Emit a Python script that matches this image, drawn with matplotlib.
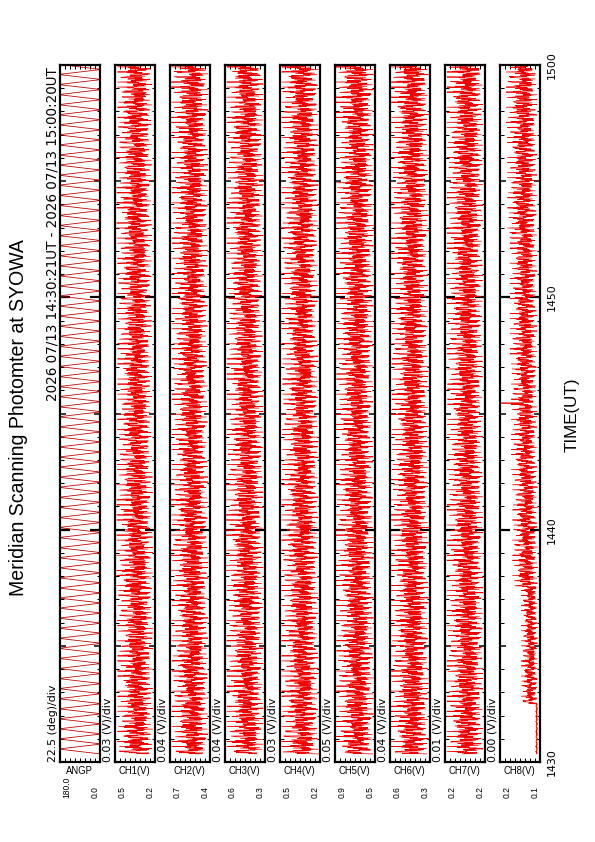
import numpy as np
import matplotlib
matplotlib.use("Agg")
import matplotlib.pyplot as plt
from matplotlib.ticker import MultipleLocator, FixedLocator

plt.rcParams['font.family'] = ['Liberation Sans', 'DejaVu Sans']
VFONT = ['DejaVu Sans']

# ---------------- data ----------------
TITLE = "Meridian Scanning Photomter at SYOWA"
PERIOD_TEXT = "2026 07/13 14:30:21UT - 2026 07/13 15:00:20UT"
TIME_TICKS = [1430, 1440, 1450, 1500]
CHANNELS = ["ANGP", "CH1(V)", "CH2(V)", "CH3(V)", "CH4(V)",
            "CH5(V)", "CH6(V)", "CH7(V)", "CH8(V)"]
SCALE_TEXT = ["22.5 (deg)/div", "0.03 (V)/div", "0.04 (V)/div", "0.04 (V)/div",
              "0.03 (V)/div", "0.05 (V)/div", "0.04 (V)/div", "0.01 (V)/div",
              "0.00 (V)/div"]
AXIS_MAX = [180.0, 0.47, 0.72, 0.62, 0.48, 0.90, 0.60, 0.24, 0.160]
AXIS_MIN = [0.0, 0.23, 0.40, 0.30, 0.24, 0.50, 0.28, 0.16, 0.128]

START_SEC = 21          # 14:30:21 UT
N_SAMPLES = 1800        # 1 s sampling up to 15:00:20 UT
SAMPLE_STEP = 1

# scan mirror angle sequence (deg) over one scan cycle
SCAN_ANGLES = [0, 15, 30, 45, 60, 75, 90, 105, 120, 135, 150, 165, 180,
               180, 165, 150, 135, 120, 105, 90, 75, 60, 45, 30, 15, 0]
# relative intensity profile along one scan cycle
SCAN_SHAPE = [0.30, 0.35, 0.40, 0.45, 0.50, 0.62, 0.95, 0.60, 0.48, 0.42, 0.38, 0.32, 0.28,
              0.25, 0.30, 0.36, 0.40, 0.46, 0.58, 0.92, 0.62, 0.50, 0.44, 0.38, 0.33, 0.30]
JITTER = [0.25, -0.20, 0.30, -0.15, 0.10, -0.30, 0.22, -0.05, 0.18, -0.25, 0.35,
          -0.12, 0.05, -0.22, 0.28, -0.18, 0.12, -0.28, 0.20, -0.08, 0.32, -0.15,
          0.02, -0.24, 0.16, -0.10, 0.26, -0.30, 0.08, -0.18, 0.14]
JITTER_OFFSET = [0, 3, 7, 11, 5, 17, 9, 14, 20]

# envelope (low / high level) read every 5 minutes
ENV_TIMES = [1430, 1435, 1440, 1445, 1450, 1455, 1500]
CH1_LOW = [0.245, 0.245, 0.245, 0.250, 0.250, 0.250, 0.250]
CH1_HIGH = [0.455, 0.455, 0.460, 0.455, 0.455, 0.460, 0.455]
CH2_LOW = [0.415, 0.415, 0.415, 0.420, 0.420, 0.415, 0.415]
CH2_HIGH = [0.705, 0.705, 0.710, 0.705, 0.705, 0.705, 0.710]
CH3_LOW = [0.315, 0.315, 0.315, 0.315, 0.320, 0.315, 0.315]
CH3_HIGH = [0.605, 0.605, 0.610, 0.605, 0.605, 0.605, 0.605]
CH4_LOW = [0.250, 0.250, 0.250, 0.250, 0.255, 0.250, 0.250]
CH4_HIGH = [0.470, 0.470, 0.470, 0.465, 0.470, 0.470, 0.470]
CH5_LOW = [0.515, 0.515, 0.515, 0.520, 0.515, 0.515, 0.515]
CH5_HIGH = [0.885, 0.885, 0.890, 0.885, 0.885, 0.885, 0.890]
CH6_LOW = [0.292, 0.292, 0.292, 0.292, 0.296, 0.292, 0.292]
CH6_HIGH = [0.590, 0.590, 0.590, 0.585, 0.590, 0.590, 0.590]
CH7_LOW = [0.164, 0.164, 0.164, 0.165, 0.165, 0.164, 0.164]
CH7_HIGH = [0.236, 0.236, 0.236, 0.235, 0.236, 0.236, 0.236]
CH8_LOW = [0.1300, 0.1300, 0.1300, 0.1305, 0.1305, 0.1305, 0.1305]
CH8_HIGH = [0.1315, 0.1430, 0.1500, 0.1510, 0.1520, 0.1540, 0.1550]
CH8_SPIKE_SEC = 15 * 60 + 27      # 14:45:27 UT
CH8_SPIKE_VALUE = 0.160

LOWS = [None, CH1_LOW, CH2_LOW, CH3_LOW, CH4_LOW, CH5_LOW, CH6_LOW, CH7_LOW, CH8_LOW]
HIGHS = [None, CH1_HIGH, CH2_HIGH, CH3_HIGH, CH4_HIGH, CH5_HIGH, CH6_HIGH, CH7_HIGH, CH8_HIGH]


def hhmm_to_min(v):
    return (v // 100) * 60 + v % 100 - (14 * 60 + 30)


# ---------------- derived series ----------------
k = np.arange(N_SAMPLES)
t_sec = START_SEC + SAMPLE_STEP * k
t_min = t_sec / 60.0
phase = k % len(SCAN_ANGLES)
env_min = np.array([hhmm_to_min(v) for v in ENV_TIMES])
env_idx = np.array([np.argmin(np.abs(env_min - t)) for t in t_min])

series = [np.array(SCAN_ANGLES, dtype=float)[phase]]
for i in range(1, 9):
    lo = np.array(LOWS[i])[env_idx]
    hi = np.array(HIGHS[i])[env_idx]
    f = np.clip(np.array(SCAN_SHAPE)[phase] +
                np.array(JITTER)[(k + JITTER_OFFSET[i]) % len(JITTER)], 0, 1)
    series.append(lo + (hi - lo) * f)
spike_i = int(np.argmin(np.abs(t_sec - CH8_SPIKE_SEC)))
series[8][spike_i] = CH8_SPIKE_VALUE

# ---------------- figure ----------------
W, H, DPI = 595, 842, 72
fig = plt.figure(figsize=(W / DPI, H / DPI), dpi=DPI)


def fx(px):
    return px / W


def fy(py):
    return 1 - py / H


TOP, BOT = 65, 762
for i in range(9):
    left = 60 + 55 * i
    ax = fig.add_axes([fx(left), fy(BOT), 40 / W, (BOT - TOP) / H])
    color = '#c00000' if i == 0 else '#f00000'
    ax.plot(series[i], t_min, color=color, lw=0.7 if i else 0.8)
    ax.set_xlim(AXIS_MAX[i], AXIS_MIN[i])
    ax.set_ylim(0, 30)
    for sp in ax.spines.values():
        sp.set_linewidth(2.2)
    ax.set_xticks(np.linspace(AXIS_MAX[i], AXIS_MIN[i], 9))
    ax.tick_params(axis='x', direction='in', top=True, bottom=True,
                   length=4, width=1, labelbottom=False)
    ax.yaxis.set_major_locator(FixedLocator([5, 10, 15, 20, 25]))
    ax.yaxis.set_minor_locator(MultipleLocator(1))
    ax.tick_params(axis='y', which='both', direction='in', left=True, right=True,
                   labelleft=False)
    ax.tick_params(axis='y', which='major', length=6, width=1.5)
    ax.tick_params(axis='y', which='minor', length=3.5, width=1)
    for tick, loc in zip(ax.yaxis.get_major_ticks(), [5, 10, 15, 20, 25]):
        if loc % 10 == 0:
            for ln in (tick.tick1line, tick.tick2line):
                ln.set_markersize(10)
                ln.set_markeredgewidth(2.2)

    fig.text(fx(left - 7.5), fy(BOT), SCALE_TEXT[i], rotation=90,
             ha='center', va='bottom', fontsize=11, family=VFONT)
    fig.text(fx(left + 19), fy(765.5), CHANNELS[i], ha='center', va='top',
             fontsize=9.5)
    fig.text(fx(left + 7), fy(798), "%.1f" % AXIS_MAX[i], rotation=90,
             ha='center', va='bottom', fontsize=8.5)
    fig.text(fx(left + 35), fy(798), "%.1f" % AXIS_MIN[i], rotation=90,
             ha='center', va='bottom', fontsize=8.5)

for tt in TIME_TICKS:
    m = hhmm_to_min(tt)
    py = BOT - (BOT - TOP) * m / 30.0
    fig.text(fx(552), fy(py), str(tt), rotation=90, ha='center', va='center',
             fontsize=11, family=VFONT)

fig.text(fx(572), fy(415), "TIME(UT)", rotation=90, ha='center', va='center',
         fontsize=17)
fig.text(fx(19), fy(418), TITLE, rotation=90, ha='center', va='center',
         fontsize=19.5)
fig.text(fx(53), fy(67), PERIOD_TEXT, rotation=90, ha='center', va='top',
         fontsize=13.5, family=VFONT)

fig.savefig("out.png", dpi=DPI)
